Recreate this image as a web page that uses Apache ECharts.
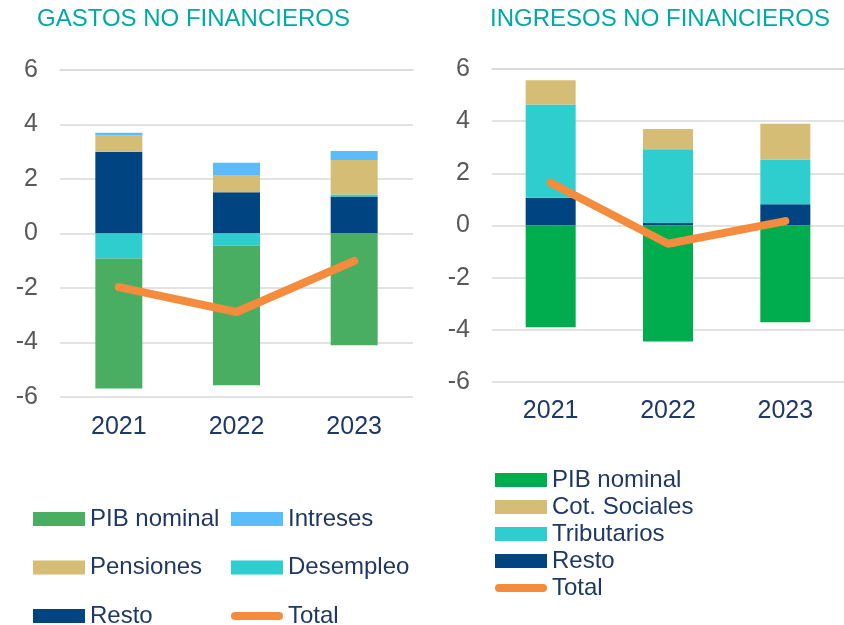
<!DOCTYPE html>
<html>
<head>
<meta charset="utf-8">
<script src="https://cdn.jsdelivr.net/npm/echarts@6/dist/echarts.min.js"></script>
<style>
  html, body { margin: 0; padding: 0; background: #fff; }
  #chart { width: 844px; height: 625px; }
</style>
</head>
<body>
<div id="chart"></div>
<script>
  // categorias
  var years = ['2021', '2022', '2023'];

  // gastos no financieros
  var gResto = [3.0, 1.51, 1.36];
  var gDesempleo = [-0.92, -0.45, 0.07];
  var gPensiones = [0.6, 0.64, 1.27];
  var gIntreses = [0.1, 0.45, 0.33];
  var gPib = [-4.77, -5.12, -4.10];
  var gTotal = [-1.97, -2.88, -1.01];

  // ingresos no financieros
  var iResto = [1.06, 0.10, 0.81];
  var iTributarios = [3.58, 2.82, 1.72];
  var iCot = [0.93, 0.78, 1.37];
  var iPib = [-3.90, -4.45, -3.71];
  var iTotal = [1.64, -0.70, 0.17];

  var FONT = 'Liberation Sans, Arial, sans-serif';
  var NAVY = '#1f3864';
  var GRID = '#d9d9d9';
  var C = {
    pibG: '#4aae62', pibI: '#00ad4e', intreses: '#5bbcfb', pensiones: '#d6bd76',
    desempleo: '#2ecece', resto: '#004481', total: '#f58b3c'
  };

  function bar(name, data, color, grid, stack, width) {
    return {
      type: 'bar', name: name, data: data, stack: stack,
      xAxisIndex: grid * 2, yAxisIndex: grid,
      barWidth: width, itemStyle: { color: color }
    };
  }
  function line(name, data, grid) {
    return {
      type: 'line', name: name, data: data,
      xAxisIndex: grid * 2, yAxisIndex: grid,
      symbol: 'none', z: 5,
      lineStyle: { color: C.total, width: 8, cap: 'round', join: 'round' },
      itemStyle: { color: C.total }
    };
  }
  function xLabels(grid, margin) {
    return {
      type: 'category', gridIndex: grid, data: years, position: 'bottom',
      axisLine: { show: false }, axisTick: { show: false },
      axisLabel: { color: NAVY, fontSize: 25, fontFamily: FONT, margin: margin }
    };
  }
  function xZero(grid) {
    return {
      type: 'category', gridIndex: grid, data: years,
      axisLine: { onZero: true, lineStyle: { color: GRID, width: 1.5 } },
      axisTick: { length: 8, lineStyle: { color: GRID, width: 1.5 } },
      axisLabel: { show: false }
    };
  }
  function yAxis(grid) {
    return {
      type: 'value', gridIndex: grid, min: -6, max: 6, interval: 2,
      axisLine: { show: false }, axisTick: { show: false },
      splitLine: { lineStyle: { color: GRID, width: 1.5 } },
      axisLabel: { color: '#595959', fontSize: 25, fontFamily: FONT, margin: 22 }
    };
  }
  function legendItem(name, color, isLine) {
    var item = { name: name, itemStyle: { color: color } };
    if (isLine) {
      item.icon = 'path://M4,0 L48,0 A4,4 0 0 1 48,8 L4,8 A4,4 0 0 1 4,0 Z';
    } else {
      item.icon = 'rect';
    }
    return item;
  }
  var legendText = { color: NAVY, fontSize: 24, fontFamily: FONT };

  var chart = echarts.init(document.getElementById('chart'));
  chart.setOption({
    animation: false,
    title: [
      { text: 'GASTOS NO FINANCIEROS', left: 37, top: 7, padding: 0,
        textStyle: { color: '#00a9a5', fontSize: 24, fontWeight: 'normal', fontFamily: FONT } },
      { text: 'INGRESOS NO FINANCIEROS', left: 490, top: 7, padding: 0,
        textStyle: { color: '#00a9a5', fontSize: 24, fontWeight: 'normal', fontFamily: FONT } }
    ],
    grid: [
      { left: 60, top: 70, width: 353, height: 327 },
      { left: 492, top: 69, width: 358, height: 313 }
    ],
    xAxis: [xLabels(0, 18), xZero(0), xLabels(1, 17), xZero(1)],
    yAxis: [yAxis(0), yAxis(1)],
    legend: [
      { orient: 'vertical', left: 33, top: 507, height: 150, itemWidth: 52, itemHeight: 14, itemGap: 24.5,
        padding: 0, textStyle: legendText, selectedMode: false,
        data: [legendItem('PIB nominal', C.pibG), legendItem('Pensiones', C.pensiones), legendItem('Resto', C.resto)] },
      { orient: 'vertical', left: 231, top: 507, height: 150, itemWidth: 52, itemHeight: 14, itemGap: 24.5,
        padding: 0, textStyle: legendText, selectedMode: false,
        data: [legendItem('Intreses', C.intreses), legendItem('Desempleo', C.desempleo), legendItem('Total', C.total, true)] },
      { orient: 'vertical', left: 495, top: 468, height: 150, itemWidth: 52, itemHeight: 14, itemGap: 3,
        padding: 0, textStyle: legendText, selectedMode: false,
        data: [legendItem('PIB nominal', C.pibI), legendItem('Cot. Sociales', C.pensiones),
               legendItem('Tributarios', C.desempleo), legendItem('Resto', C.resto), legendItem('Total', C.total, true)] }
    ],
    series: [
      bar('Resto', gResto, C.resto, 0, 'g', 47),
      bar('Desempleo', gDesempleo, C.desempleo, 0, 'g', 47),
      bar('Pensiones', gPensiones, C.pensiones, 0, 'g', 47),
      bar('Intreses', gIntreses, C.intreses, 0, 'g', 47),
      bar('PIB nominal', gPib, C.pibG, 0, 'g', 47),
      line('Total', gTotal, 0),
      bar('Resto', iResto, C.resto, 1, 'i', 50),
      bar('Tributarios', iTributarios, C.desempleo, 1, 'i', 50),
      bar('Cot. Sociales', iCot, C.pensiones, 1, 'i', 50),
      bar('PIB nominal', iPib, C.pibI, 1, 'i', 50),
      line('Total', iTotal, 1)
    ]
  });
</script>
</body>
</html>
